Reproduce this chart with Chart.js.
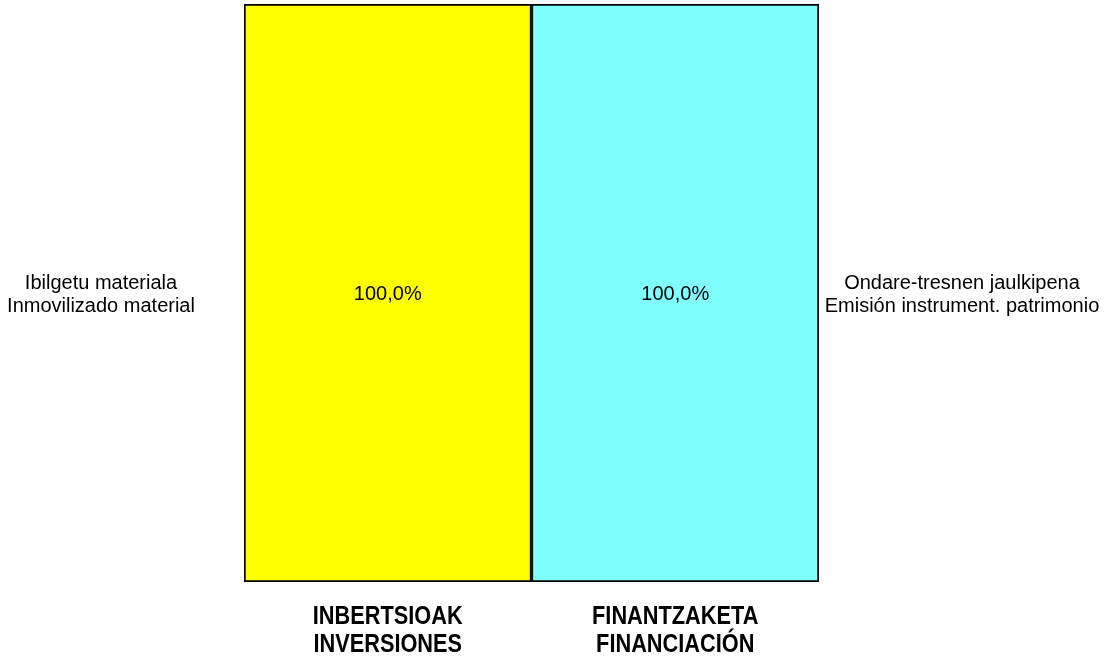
<!DOCTYPE html>
<html>
<head>
<meta charset="utf-8">
<script src="https://cdn.jsdelivr.net/npm/chart.js@4"></script>
<style>
  html, body { margin:0; padding:0; background:#fff; }
  #wrap { width:1106px; height:658px; position:relative; }
</style>
</head>
<body>
<div id="wrap"><canvas id="grafico"></canvas></div>
<script>
// categorias (eje x, dos lineas cada una)
const categorias = [
  ["INBERTSIOAK", "INVERSIONES"],
  ["FINANTZAKETA", "FINANCIACIÓN"]
];
// un segmento por barra
const inversiones = [100, null];
const financiacion = [null, 100];
const etiquetasInversiones = ["Ibilgetu materiala", "Inmovilizado material"];
const etiquetasFinanciacion = ["Ondare-tresnen jaulkipena", "Emisión instrument. patrimonio"];
const colores = ["#ffff00", "#80ffff"];

const fmt = v => v.toFixed(1).replace('.', ',') + '%';

// escribe el % dentro de cada barra y el nombre del segmento a un lado
const etiquetasPlugin = {
  id: 'etiquetas',
  afterDatasetsDraw(chart){
    const ctx = chart.ctx;
    ctx.save();
    ctx.fillStyle = '#000';
    ctx.textAlign = 'center';
    ctx.textBaseline = 'middle';
    ctx.font = '20px "Liberation Sans", Arial, sans-serif';
    chart.data.datasets.forEach((ds, i) => {
      const meta = chart.getDatasetMeta(i);
      meta.data.forEach((el, j) => {
        const v = ds.data[j];
        if(v == null) return;
        const yc = (el.y + el.base) / 2 + 1.5;
        ctx.fillText(fmt(v), el.x, yc);
        const lados = ds.lados;
        const mitad = el.width / 2;
        const x = j === 0 ? el.x - mitad - 143 : el.x + mitad + 143;
        lados.forEach((t, k) => {
          ctx.fillText(t, x, yc + (k - (lados.length - 1) / 2) * 23);
        });
      });
    });

    // rotulos del eje x, en negrita y algo estrechos
    const sx = chart.scales.x;
    const abajo = chart.chartArea.bottom;
    ctx.textBaseline = 'alphabetic';
    ctx.font = 'bold 25px "Liberation Sans", Arial, sans-serif';
    chart.data.labels.forEach((lab, i) => {
      const x = sx.getPixelForValue(i);
      lab.forEach((t, k) => {
        ctx.save();
        ctx.translate(x, abajo + 42 + k * 28);
        ctx.scale(0.87, 1);
        ctx.fillText(t, 0, 0);
        ctx.restore();
      });
    });
    ctx.restore();
  }
};

new Chart(document.getElementById('grafico'), {
  type: 'bar',
  data: {
    labels: categorias,
    datasets: [
      { label: etiquetasInversiones.join(' / '), data: inversiones, lados: etiquetasInversiones,
        backgroundColor: colores[0], borderColor: '#000', borderWidth: 2, borderSkipped: false },
      { label: etiquetasFinanciacion.join(' / '), data: financiacion, lados: etiquetasFinanciacion,
        backgroundColor: colores[1], borderColor: '#000', borderWidth: 2, borderSkipped: false }
    ]
  },
  options: {
    responsive: true,
    maintainAspectRatio: false,
    animation: false,
    layout: { padding: { left: 244, right: 287, top: 4, bottom: 76 } },
    datasets: { bar: { barPercentage: 1, categoryPercentage: 1 } },
    plugins: { legend: { display: false }, tooltip: { enabled: false } },
    scales: {
      x: { stacked: true, display: false },
      y: { stacked: true, display: false, min: 0, max: 100 }
    }
  },
  plugins: [etiquetasPlugin]
});
</script>
</body>
</html>
